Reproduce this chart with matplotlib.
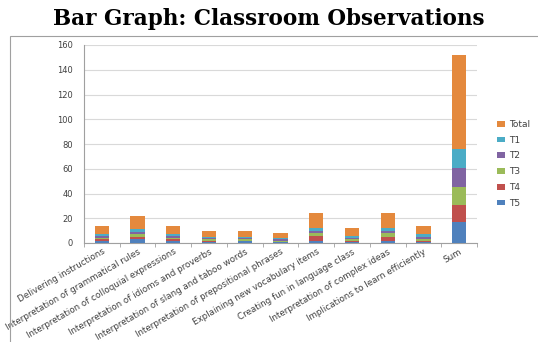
import matplotlib
matplotlib.use("Agg")
import matplotlib.pyplot as plt
from matplotlib.patches import Rectangle
import numpy as np

categories = ["Delivering instructions", "Interpretation of grammatical rules",
              "Interpretation of colloquial expressions", "Interpretation of idioms and proverbs",
              "Interpretation of slang and taboo words", "Interpretation of prepositional phrases",
              "Explaining new vocabulary items", "Creating fun in language class",
              "Interpretation of complex ideas", "Implications to learn efficiently", "Sum"]
T5 = [2, 3, 2, 1, 2, 1, 2, 1, 2, 1, 17]
T4 = [1, 2, 1, 1, 0, 0, 4, 1, 3, 1, 14]
T3 = [1, 2, 1, 1, 1, 1, 2, 1, 3, 1, 14]
T2 = [2, 2, 2, 1, 1, 1, 2, 1, 2, 2, 16]
T1 = [1, 2, 1, 1, 1, 1, 2, 2, 2, 2, 15]
Total = [7, 11, 7, 5, 5, 4, 12, 6, 12, 7, 76]
series_names = ["T5", "T4", "T3", "T2", "T1", "Total"]
colors = ["#4F81BD", "#C0504D", "#9BBB59", "#8064A2", "#4BACC6", "#E4893D"]
yticks = [0, 20, 40, 60, 80, 100, 120, 140, 160]

fig = plt.figure(figsize=(5.38, 3.42), dpi=100)
fig.text(0.5, 0.945, "Bar Graph: Classroom Observations", ha="center", va="center",
         fontsize=15.5, fontweight="bold", family="DejaVu Serif")
fig.patches.append(Rectangle((10/538, -0.01), 1.0, 1 - 36/342 + 0.01, transform=fig.transFigure,
                             fill=False, edgecolor="#A0A0A0", linewidth=0.8))

ax = fig.add_axes([84/538, 1 - 243/342, (477 - 84)/538, (243 - 45)/342])
x = np.arange(len(categories))
bottom = np.zeros(len(categories))
handles = []
for name, vals, c in zip(series_names, [T5, T4, T3, T2, T1, Total], colors):
    b = ax.bar(x, vals, width=0.4, bottom=bottom, color=c, edgecolor="none",
               label=name, zorder=3)
    handles.append(b)
    bottom += np.array(vals)

ax.set_ylim(0, 160)
ax.set_xlim(-0.5, len(categories) - 0.5)
ax.set_yticks(yticks)
ax.yaxis.grid(True, color="#D9D9D9", linewidth=0.8, zorder=0)
ax.tick_params(axis="y", length=0, labelsize=6, labelcolor="#404040", pad=8)
ax.set_xticks(x)
ax.set_xticklabels(categories, rotation=30, ha="right", rotation_mode="anchor",
                   fontsize=6.3, color="#404040")
ax.tick_params(axis="x", length=0, pad=3)
ax.set_xticks(np.arange(-0.5, len(categories), 1), minor=True)
ax.tick_params(axis="x", which="minor", length=3, color="#A0A0A0")
for s in ["top", "right"]:
    ax.spines[s].set_visible(False)
ax.spines["left"].set_color("#A0A0A0")
ax.spines["bottom"].set_color("#A0A0A0")

ax.legend(handles[::-1], series_names[::-1], loc="center left", bbox_to_anchor=(1.03, 0.4),
          frameon=False, fontsize=6.5, handlelength=0.9, handleheight=0.6, labelspacing=0.75,
          handletextpad=0.5, labelcolor="#404040")

fig.savefig("out.png", dpi=100)
